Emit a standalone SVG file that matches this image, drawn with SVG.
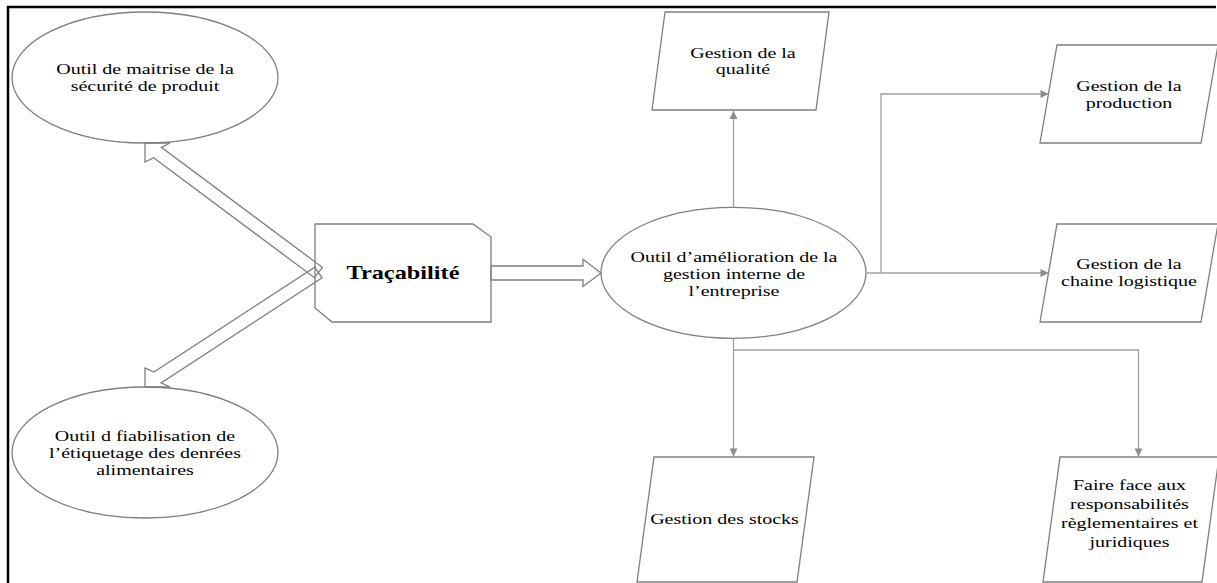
<svg xmlns="http://www.w3.org/2000/svg" width="1217" height="583" viewBox="0 0 1217 583">
  <defs>
    <style>
      .shape{fill:#fff;stroke:#7f7f7f;stroke-width:1.3}
      .block{fill:none;stroke:#7f7f7f;stroke-width:1.3;stroke-linejoin:miter}
      .conn{fill:none;stroke:#a0a0a0;stroke-width:1.3}
      .t{font-family:"Liberation Serif","Times New Roman",serif;font-size:15.5px;fill:#000;text-anchor:middle}
      .tb{font-weight:bold;font-size:19px}
    </style>
    <marker id="ah" viewBox="0 0 10 10" refX="10" refY="5" markerWidth="9" markerHeight="8" orient="auto" markerUnits="userSpaceOnUse">
      <path d="M0,0L10,5L0,10z" fill="#8c8c8c"/>
    </marker>
  </defs>

  <rect width="1217" height="583" fill="#fff"/>
  <!-- page frame -->
  <path d="M8,583V7H1216" fill="none" stroke="#000" stroke-width="2.5"/>

  <!-- nodes -->
  <g id="securite">
    <ellipse class="shape" cx="145" cy="77.5" rx="133" ry="65.5"/>
    <text class="t" transform="translate(145 0) scale(1.29 1)"><tspan x="0" y="74.5">Outil de maitrise de la</tspan><tspan x="0" y="91">sécurité de produit</tspan></text>
  </g>

  <g id="etiquetage">
    <ellipse class="shape" cx="145" cy="452.5" rx="133" ry="65.5"/>
    <text class="t" transform="translate(145 0) scale(1.29 1)"><tspan x="0" y="441.5">Outil d fiabilisation de</tspan><tspan x="0" y="458">l’étiquetage des denrées</tspan><tspan x="0" y="475">alimentaires</tspan></text>
  </g>

  <g id="tracabilite">
    <path class="shape" d="M315,224H473L491,237V322H332L315,308Z"/>
    <text class="t tb" transform="translate(403 0) scale(1.28 1)"><tspan x="0" y="279">Traçabilité</tspan></text>
  </g>

  <g id="gestion-interne">
    <ellipse class="shape" cx="733.5" cy="272.8" rx="132.5" ry="65.5"/>
    <text class="t" transform="translate(734 0) scale(1.29 1)"><tspan x="0" y="262.5">Outil d’amélioration de la</tspan><tspan x="0" y="279.5">gestion interne de</tspan><tspan x="0" y="296">l’entreprise</tspan></text>
  </g>

  <g id="qualite">
    <path class="shape" d="M665,12H829L816,110H652Z"/>
    <text class="t" transform="translate(743 0) scale(1.29 1)"><tspan x="0" y="58.5">Gestion de la</tspan><tspan x="0" y="74.5">qualité</tspan></text>
  </g>

  <g id="production">
    <path class="shape" d="M1057,45H1218L1201,143H1040Z"/>
    <text class="t" transform="translate(1129 0) scale(1.29 1)"><tspan x="0" y="91">Gestion de la</tspan><tspan x="0" y="108">production</tspan></text>
  </g>

  <g id="logistique">
    <path class="shape" d="M1057,224H1218L1201,322H1040Z"/>
    <text class="t" transform="translate(1129 0) scale(1.29 1)"><tspan x="0" y="269.5">Gestion de la</tspan><tspan x="0" y="286">chaine logistique</tspan></text>
  </g>

  <g id="stocks">
    <path class="shape" d="M654,457H814L797,582H637Z"/>
    <text class="t" transform="translate(724.5 0) scale(1.29 1)"><tspan x="0" y="524">Gestion des stocks</tspan></text>
  </g>

  <g id="reglementaire">
    <path class="shape" d="M1060,457H1219L1202,582H1043Z"/>
    <text class="t" transform="translate(1129.5 0) scale(1.29 1)"><tspan x="0" y="490">Faire face aux</tspan><tspan x="0" y="509">responsabilités</tspan><tspan x="0" y="528">règlementaires et</tspan><tspan x="0" y="547">juridiques</tspan></text>
  </g>

  <!-- connectors -->
  <g id="connectors">
    <!-- hollow block arrows out of the traceability box -->
    <path class="block" d="M145,143L170,143L161.4,147.3L322.3,267.3L314.5,277.7L153.6,157.7L145,162Z"/>
    <path class="block" d="M145,387L170,387L161.1,382.9L322,277.9L314.8,267.1L153.9,372.1L145,368Z"/>
    <path class="block" d="M491,266H583V259.3L601,273L583,286.5V280H491Z"/>
    <!-- elbow connectors from the central ellipse -->
    <path class="conn" d="M733.5,207.3V111" marker-end="url(#ah)"/>
    <path class="conn" d="M866,273H1048.5" marker-end="url(#ah)"/>
    <path class="conn" d="M881,273V94H1048.5" marker-end="url(#ah)"/>
    <path class="conn" d="M733.5,338.3V456.5" marker-end="url(#ah)"/>
    <path class="conn" d="M733.5,350H1138.5V456.5" marker-end="url(#ah)"/>
  </g>
</svg>
